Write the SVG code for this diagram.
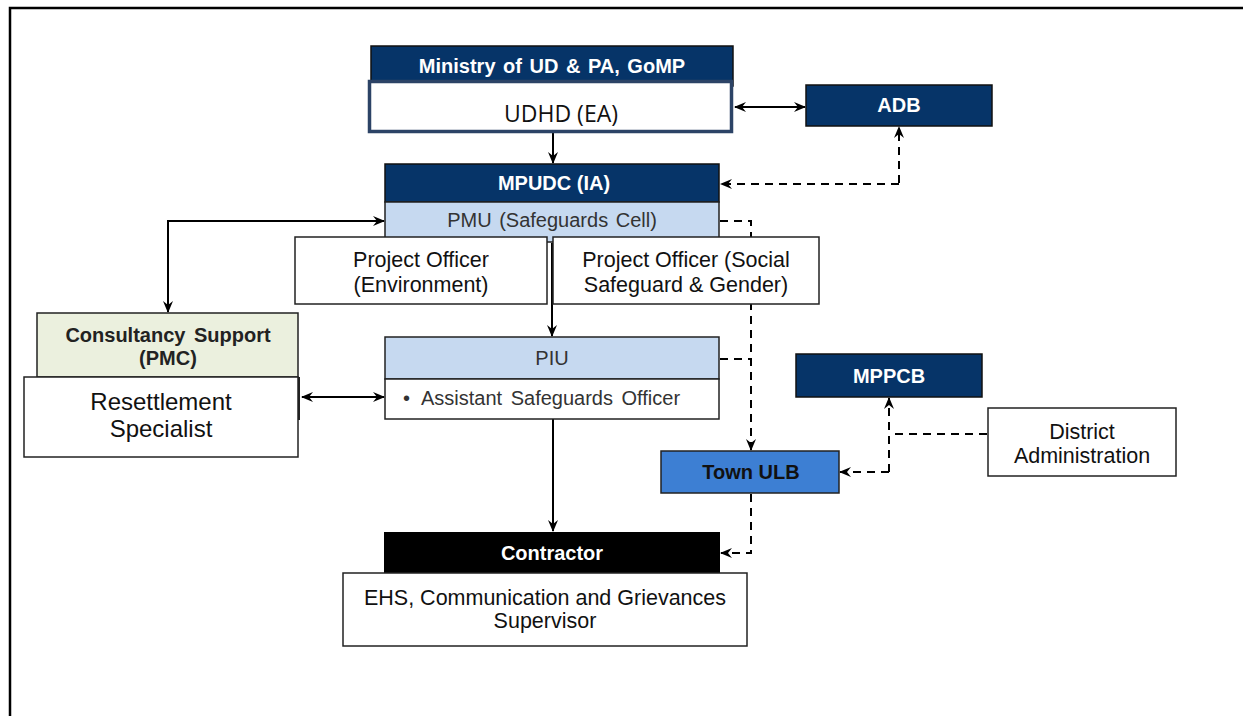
<svg xmlns="http://www.w3.org/2000/svg" width="1243" height="716" viewBox="0 0 1243 716">
<defs>
<marker id="ah" viewBox="0 0 12 12" refX="11" refY="6" markerWidth="12" markerHeight="12" markerUnits="userSpaceOnUse" orient="auto-start-reverse">
<path d="M0,1 L12,6 L0,11 L4,6 Z" fill="#000"/>
</marker>
<style>
.lbl{font-family:"Liberation Sans",Arial,sans-serif;text-anchor:middle}
.b{font-weight:bold;font-size:20px}
.w{fill:#fff}
.r{font-size:20px;fill:#333}
.big{font-size:21.5px;fill:#111}
.navy{fill:#063468;stroke:#111;stroke-width:1.5}
.lb{fill:#c6d9f0;stroke:#222;stroke-width:1.5}
.wb{fill:#fff;stroke:#222;stroke-width:1.5}
.c{fill:none;stroke:#000;stroke-width:2}
.d{fill:none;stroke:#000;stroke-width:2;stroke-dasharray:8 6}
</style>
</defs>
<rect width="1243" height="716" fill="#fff"/>
<path d="M10,716 V8 H1243" fill="none" stroke="#000" stroke-width="2.5"/>

<g id="connectors">
<path class="c" d="M553,133 V163" marker-end="url(#ah)"/>
<path class="c" d="M735,107 H805" marker-start="url(#ah)" marker-end="url(#ah)"/>
<path class="d" d="M899,183 V127" marker-end="url(#ah)"/>
<path class="d" d="M899,184 H721" marker-end="url(#ah)"/>
<path class="c" d="M168,312 V221 H384" marker-start="url(#ah)" marker-end="url(#ah)"/>
<path class="c" d="M552,243 V336" marker-end="url(#ah)"/>
<path class="c" d="M302,397 H384" marker-start="url(#ah)" marker-end="url(#ah)"/>
<path class="d" d="M720,221 H751 V450" marker-end="url(#ah)"/>
<path class="d" d="M720,359 H751"/>
<path class="c" d="M553,419 V531" marker-end="url(#ah)"/>
<path class="d" d="M751,494 V553 H721" marker-end="url(#ah)"/>
<path class="d" d="M987,434 H889"/>
<path class="d" d="M889,472 V398" marker-end="url(#ah)"/>
<path class="d" d="M889,472 H840" marker-end="url(#ah)"/>
</g>

<g id="ministry">
<rect class="navy" x="371" y="46" width="362" height="40"/>
<text class="lbl b w" x="552" y="73" word-spacing="2">Ministry of UD &amp; PA, GoMP</text>
<rect x="369.5" y="81.5" width="362" height="50" fill="#fff" stroke="#2c4366" stroke-width="3.5"/>
<text x="561" y="122" font-family="'Open Sans','Liberation Sans',sans-serif" font-size="23" text-anchor="middle" fill="#111">UDHD (EA)</text>
</g>

<g id="adb">
<rect class="navy" x="806" y="85" width="186" height="41"/>
<text class="lbl b w" x="899" y="112">ADB</text>
</g>

<g id="mpudc">
<rect class="navy" x="385" y="164" width="334" height="38"/>
<text class="lbl b w" x="554" y="190">MPUDC (IA)</text>
<rect class="lb" x="385" y="202" width="334" height="40"/>
<text class="lbl r" x="552" y="227" word-spacing="2">PMU (Safeguards Cell)</text>
</g>

<g id="po-env">
<rect class="wb" x="295" y="237" width="252" height="67"/>
<text class="lbl big" x="421" y="267">Project Officer</text>
<text class="lbl big" x="421" y="292">(Environment)</text>
</g>

<g id="po-social">
<rect class="wb" x="553" y="237" width="266" height="67"/>
<text class="lbl big" x="686" y="267">Project Officer (Social</text>
<text class="lbl big" x="686" y="292">Safeguard &amp; Gender)</text>
</g>

<g id="consultancy">
<rect x="37" y="313" width="261" height="64" fill="#ebf0de" stroke="#222" stroke-width="1.5"/>
<line x1="299" y1="377" x2="299" y2="420" stroke="#222" stroke-width="2"/>
<text class="lbl b" x="168" y="342" fill="#222" word-spacing="3">Consultancy Support</text>
<text class="lbl b" x="168" y="365" fill="#222">(PMC)</text>
<rect class="wb" x="24" y="377" width="274" height="80"/>
<text class="lbl" x="161" y="410" font-size="24" fill="#111">Resettlement</text>
<text class="lbl" x="161" y="437" font-size="24" fill="#111">Specialist</text>
</g>

<g id="piu">
<rect class="lb" x="385" y="337" width="334" height="42"/>
<text class="lbl r" x="552" y="365">PIU</text>
<rect class="wb" x="385" y="379" width="334" height="40"/>
<text x="403" y="405" font-family="'Liberation Sans',Arial,sans-serif" font-size="20" fill="#333">•</text>
<text x="421" y="405" font-family="'Liberation Sans',Arial,sans-serif" font-size="20" fill="#333" word-spacing="3">Assistant Safeguards Officer</text>
</g>

<g id="mppcb">
<rect class="navy" x="796" y="354" width="186" height="43"/>
<text class="lbl b w" x="889" y="383">MPPCB</text>
</g>

<g id="district">
<rect class="wb" x="988" y="408" width="188" height="68"/>
<text class="lbl big" x="1082" y="439">District</text>
<text class="lbl big" x="1082" y="463">Administration</text>
</g>

<g id="town-ulb">
<rect x="661" y="451" width="178" height="42" fill="#3d7fd3" stroke="#222" stroke-width="1.5"/>
<text class="lbl b" x="751" y="479" fill="#111">Town ULB</text>
</g>

<g id="contractor">
<rect x="384" y="532" width="336" height="42" fill="#000"/>
<text class="lbl b w" x="552" y="560">Contractor</text>
<rect class="wb" x="343" y="573" width="404" height="73"/>
<text class="lbl big" x="545" y="605">EHS, Communication and Grievances</text>
<text class="lbl big" x="545" y="628">Supervisor</text>
</g>
</svg>
